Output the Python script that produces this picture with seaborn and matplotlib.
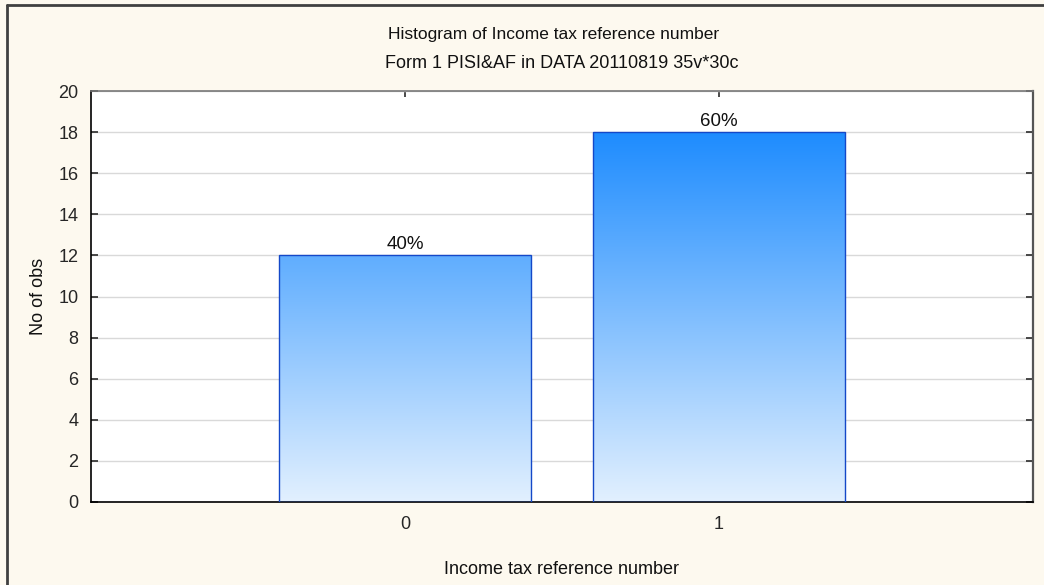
import numpy as np
import pandas as pd
import matplotlib
matplotlib.use("Agg")
import matplotlib.pyplot as plt
from matplotlib.colors import LinearSegmentedColormap
from matplotlib.lines import Line2D
import seaborn as sns

# Histogram counts of the income tax reference number
categories = ["0", "1"]
counts = [12, 18]
y_ticks = [0, 2, 4, 6, 8, 10, 12, 14, 16, 18, 20]

title_main = "Histogram of Income tax reference number"
title_sub = "Form 1 PISI&AF in DATA 20110819 35v*30c"
x_label = "Income tax reference number"
y_label = "No of obs"

sns.set_theme(style="white")
plt.rcParams["font.family"] = ["Liberation Sans", "DejaVu Sans"]

bg = "#FDF9EF"
df = pd.DataFrame({"value": categories, "count": counts})

fig = plt.figure(figsize=(10.44, 5.85), dpi=100, facecolor=bg)
ax = fig.add_axes([91 / 1044, 1 - 502 / 585, (1033 - 91) / 1044, (502 - 91) / 585])
ax.set_facecolor("white")

sns.barplot(data=df, x="value", y="count", order=categories, width=0.8,
            color="#62AEFF", edgecolor="#1448C8", linewidth=1.0, ax=ax, zorder=2)

ax.set_xlim(-1, 2)
ax.set_ylim(0, 20)

# vertical gradient fill, shared scale across bars
top = max(counts)
cmap = LinearSegmentedColormap.from_list("blues", ["#E2F0FE", "#1E8CFF"])
grad = np.linspace(0, 1, 256).reshape(-1, 1)
for patch in ax.patches:
    x0 = patch.get_x()
    w = patch.get_width()
    im = ax.imshow(grad, cmap=cmap, origin="lower", aspect="auto",
                   extent=(x0, x0 + w, 0, top), zorder=2.5, interpolation="bicubic")
    im.set_clip_path(patch)
    patch.set_facecolor("none")
    patch.set_zorder(3)

ax.set_xlim(-1, 2)
ax.set_ylim(0, 20)

# percentage labels above bars
total = sum(counts)
for i, c in enumerate(counts):
    ax.annotate(f"{100 * c / total:.0f}%", xy=(i, c), xytext=(0, 4.5),
                textcoords="offset points", ha="center", va="baseline",
                fontsize=13.5, color="#111111", zorder=4)

ax.set_yticks(y_ticks)
ax.yaxis.grid(True, color="#D9D9D9", linewidth=1.0, zorder=0)
ax.set_axisbelow(True)
ax.tick_params(axis="y", direction="in", length=5, left=True, right=True,
               labelsize=13, pad=9, color="#333333")
ax.tick_params(axis="x", direction="in", length=4, bottom=True, top=True,
               labelsize=13, pad=10, color="#333333")

for side in ["left", "bottom"]:
    ax.spines[side].set_color("black")
    ax.spines[side].set_linewidth(1.2)
ax.spines["top"].set_color("#777777")
ax.spines["right"].set_color("#555555")
ax.spines["top"].set_linewidth(1.2)
ax.spines["right"].set_linewidth(1.6)

ax.set_xlabel(x_label, fontsize=13, labelpad=20, color="#111111")
ax.set_ylabel(y_label, fontsize=13, labelpad=8, color="#111111")

fig.text(554 / 1044, 1 - 34 / 585, title_main, ha="center", va="center",
         fontsize=12.5, color="#111111")
fig.text(562 / 1044, 1 - 63 / 585, title_sub, ha="center", va="center",
         fontsize=13, color="#111111")

# outer frame on the top and left edges
fig.add_artist(Line2D([7 / 1044, 7 / 1044], [0, 1 - 5 / 585], transform=fig.transFigure,
                      color="#404040", linewidth=2))
fig.add_artist(Line2D([7 / 1044, 1], [1 - 5 / 585, 1 - 5 / 585], transform=fig.transFigure,
                      color="#404040", linewidth=2))

fig.savefig("out.png", dpi=100, facecolor=bg)
